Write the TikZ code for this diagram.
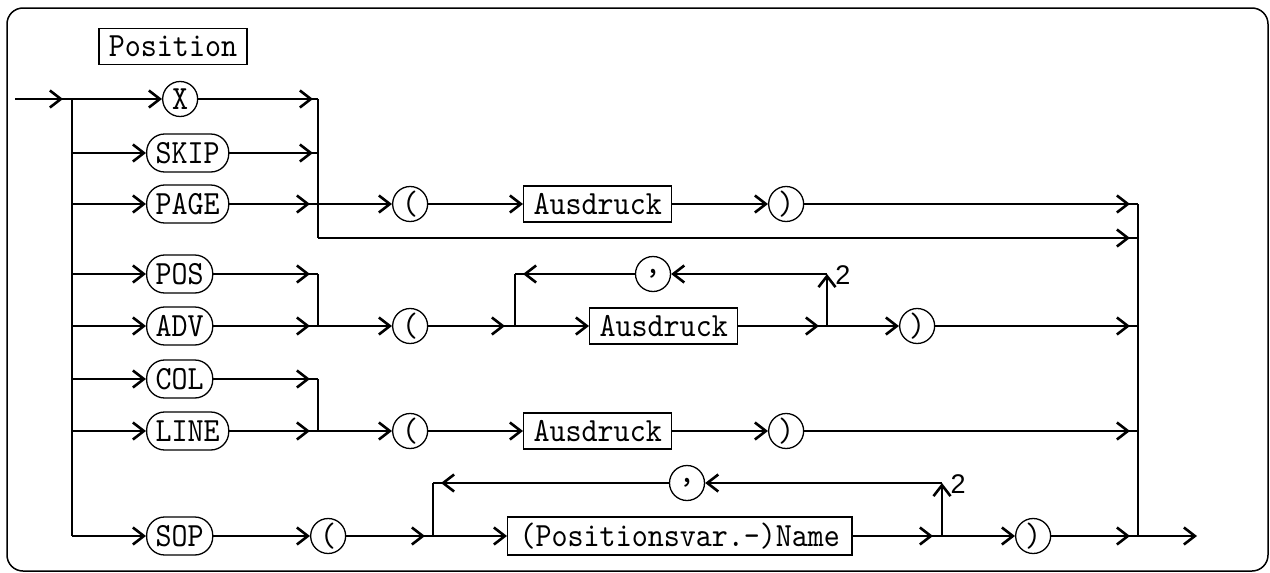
\documentclass[tikz,border=0pt]{standalone}
\usepackage{fontspec}
\newfontfamily\lsans{Liberation Sans}
\newfontfamily\ttx{lmmono10-regular.otf}[FakeStretch=0.9]
\usetikzlibrary{arrows.meta,decorations.markings}
\tikzset{
  conn/.style={line width=2.6pt},
  arr/.style={-{Straight Barb[length=11pt,width=17pt]}},
  tipb/.style={postaction={decorate},decoration={markings,mark=at position -#1 with {\arrow{Straight Barb[length=11pt,width=17pt]}}}},
  txt/.style={font=\ttx\fontsize{33.9}{38}\selectfont},
  term/.style={txt,draw,line width=1.3pt,rounded corners=18pt,minimum height=38pt,inner xsep=9pt,inner ysep=0pt},
  tcirc/.style={txt,draw,line width=1.3pt,circle,minimum size=35pt,inner sep=0pt},
  nterm/.style={txt,draw,line width=1.3pt,rectangle,minimum height=36pt,inner xsep=10pt,inner ysep=0pt},
  lab/.style={font=\lsans\fontsize{27}{30}\selectfont,inner sep=0pt},
}
\begin{document}
\begin{tikzpicture}[x=1pt,y=-1pt]
\useasboundingbox (0,0) rectangle (1270,573);
\draw[line width=1.5pt,rounded corners=16pt] (7,8) rectangle (1268,571);

% nodes
\node[nterm] (pos) at (173,46.5) {Position};
\node[tcirc,anchor=west] (x) at (162,99) {X};
\node[term,anchor=west] (skip) at (146,153) {SKIP};
\node[term,anchor=west] (page) at (146,204) {PAGE};
\node[term,anchor=west] (posk) at (146,274) {POS};
\node[term,anchor=west] (adv) at (146,326) {ADV};
\node[term,anchor=west] (col) at (146,379) {COL};
\node[term,anchor=west] (line) at (146,431) {LINE};
\node[term,anchor=west] (sop) at (146,536) {SOP};

\node[tcirc,anchor=west] (p1) at (392,204) {(};
\node[nterm,anchor=west] (a1) at (523,204) {Ausdruck};
\node[tcirc,anchor=west] (q1) at (768,204) {)};

\node[tcirc,anchor=west] (p2) at (392,326) {(};
\node[nterm,anchor=west] (a2) at (589,326) {Ausdruck};
\node[tcirc,anchor=west] (q2) at (899,326) {)};
\node[tcirc] (c2) at (653,274) {,};

\node[tcirc,anchor=west] (p3) at (392,431) {(};
\node[nterm,anchor=west] (a3) at (523,431) {Ausdruck};
\node[tcirc,anchor=west] (q3) at (768,431) {)};

\node[tcirc,anchor=west] (p4) at (310,536) {(};
\node[nterm,anchor=west,minimum height=38pt,inner xsep=12pt] (nm) at (507,536) {(Positionsvar.-)Name};
\node[tcirc] (c4) at (687,483) {,};
\node[tcirc,anchor=west] (q4) at (1015,536) {)};

\node[lab] (l2a) at (843,275) {2};
\node[lab] (l2b) at (958,484) {2};

% coordinates
\coordinate (in) at (15,99);
\coordinate (lt) at (72,99);
\coordinate (lb) at (72,536);
\coordinate (b1t) at (318,99);
\coordinate (b1s) at (318,153);
\coordinate (b1p) at (318,204);
\coordinate (b1b) at (318,238);
\coordinate (b2t) at (318,274);
\coordinate (b2b) at (318,326);
\coordinate (b3t) at (318,379);
\coordinate (b3b) at (318,431);
\coordinate (rt) at (1138,204);
\coordinate (rby) at (1138,238);
\coordinate (radv) at (1138,326);
\coordinate (rline) at (1138,431);
\coordinate (rb) at (1138,536);
\coordinate (out) at (1197,536);
\coordinate (la) at (515,326);
\coordinate (lat) at (515,274);
\coordinate (ra) at (827,326);
\coordinate (rat) at (827,274);
\coordinate (ls) at (433,536);
\coordinate (lst) at (433,483);
\coordinate (rs) at (942,536);
\coordinate (rst) at (942,483);

% left bus
\draw[conn,tipb=9pt] (in) -- (lt);
\draw[conn] (lt) -- (lb);
\foreach \n in {x,skip,page,posk,adv,col,line,sop}
  \draw[conn,arr] (lt |- \n.west) -- (\n.west);

% first group
\draw[conn,tipb=5pt] (x.east) -- (b1t);
\draw[conn,tipb=5pt] (skip.east) -- (b1s);
\draw[conn,tipb=8pt] (page.east) -- (b1p);
\draw[conn] (b1t) -- (b1b);
\draw[conn,tipb=8pt] (b1b) -- (rby);
\draw[conn,arr] (b1p) -- (p1.west);
\draw[conn,arr] (p1.east) -- (a1.west);
\draw[conn,arr] (a1.east) -- (q1.west);
\draw[conn,tipb=8pt] (q1.east) -- (rt);

% second group
\draw[conn,tipb=8pt] (posk.east) -- (b2t);
\draw[conn,tipb=8pt] (adv.east) -- (b2b);
\draw[conn] (b2t) -- (b2b);
\draw[conn,arr] (b2b) -- (p2.west);
\draw[conn,tipb=10pt] (p2.east) -- (la);
\draw[conn] (la) -- (lat);
\draw[conn,arr] (la) -- (a2.west);
\draw[conn,tipb=8pt] (a2.east) -- (ra);
\draw[conn,arr] (ra) -- (rat);
\draw[conn,arr] (rat) -- (c2.east);
\draw[conn,tipb=8pt] (c2.west) -- (lat);
\draw[conn,arr] (ra) -- (q2.west);
\draw[conn,tipb=8pt] (q2.east) -- (radv);

% third group
\draw[conn,tipb=8pt] (col.east) -- (b3t);
\draw[conn,tipb=8pt] (line.east) -- (b3b);
\draw[conn] (b3t) -- (b3b);
\draw[conn,arr] (b3b) -- (p3.west);
\draw[conn,arr] (p3.east) -- (a3.west);
\draw[conn,arr] (a3.east) -- (q3.west);
\draw[conn,tipb=8pt] (q3.east) -- (rline);

% SOP group
\draw[conn,arr] (sop.east) -- (p4.west);
\draw[conn,tipb=8pt] (p4.east) -- (ls);
\draw[conn] (ls) -- (lst);
\draw[conn,arr] (ls) -- (nm.west);
\draw[conn,tipb=9pt] (nm.east) -- (rs);
\draw[conn,arr] (rs) -- (rst);
\draw[conn,arr] (rst) -- (c4.east);
\draw[conn,tipb=8pt] (c4.west) -- (lst);
\draw[conn,arr] (rs) -- (q4.west);
\draw[conn,tipb=8pt] (q4.east) -- (rb);

% right bus
\draw[conn] (rt) -- (rb);
\draw[conn,arr] (rb) -- (out);
\end{tikzpicture}
\end{document}
